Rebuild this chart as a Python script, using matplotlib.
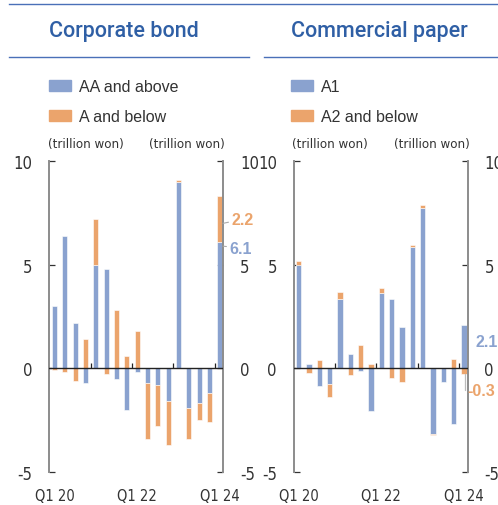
import matplotlib
matplotlib.use("Agg")
import matplotlib.pyplot as plt
import matplotlib.font_manager as fm
from matplotlib.lines import Line2D
from matplotlib.patches import Patch
import numpy as np

quarters = ['Q1 20', 'Q2 20', 'Q3 20', 'Q4 20', 'Q1 21', 'Q2 21', 'Q3 21', 'Q4 21',
            'Q1 22', 'Q2 22', 'Q3 22', 'Q4 22', 'Q1 23', 'Q2 23', 'Q3 23', 'Q4 23', 'Q1 24']
tick_labels = ['Q1 20', 'Q1 22', 'Q1 24']

# corporate bond net issuance by rating (trillion won)
bond_aa = [3.0, 6.4, 2.2, -0.7, 5.0, 4.8, -0.5, -2.0, -0.2, -0.7, -0.8, -1.6, 9.0, -1.9, -1.7, -1.2, 6.1]
bond_a = [-0.1, -0.2, -0.6, 1.4, 2.2, -0.3, 2.8, 0.6, 1.8, -2.7, -2.0, -2.1, 0.1, -1.5, -0.8, -1.4, 2.2]

# commercial paper net issuance by rating (trillion won)
cp_a1 = [5.0, 0.2, -0.85, -0.75, 3.35, 0.7, -0.15, -2.05, 3.65, 3.35, 2.0, 5.85, 7.75, -3.2, -0.65, -2.7, 2.1]
cp_a2 = [0.2, -0.25, 0.4, -0.65, 0.35, -0.35, 1.1, 0.2, 0.25, -0.45, -0.65, 0.1, 0.15, -0.05, 0.0, 0.45, -0.3]

BLUE = '#8aa2cf'
ORANGE = '#eba46c'
TITLE = '#2f5fa5'
RULE = '#4a70b8'
SPINE = '#8c8c8c'
TEXT = '#333333'

# pick a narrow face for the axis text if one is around
fonts = fm.fontManager.ttflist
names = {f.name for f in fonts}
if 'Liberation Sans Narrow' in names:
    narrow = dict(family='Liberation Sans Narrow')
elif any(f.name == 'DejaVu Sans' and 'condensed' in str(f.stretch) for f in fonts):
    narrow = dict(family='DejaVu Sans', stretch='condensed')
else:
    narrow = dict(family='Liberation Sans')

if any(f.name == 'Roboto' and f.weight == 500 for f in fonts):
    title_font = dict(family='Roboto', fontweight=500)
else:
    title_font = dict(family='Liberation Sans', fontweight='bold')

W, H = 498, 506
fig = plt.figure(figsize=(W / 100, H / 100), dpi=100)


def px_axes(x0, x1, ytop, ybot):
    return fig.add_axes([x0 / W, 1 - ybot / H, (x1 - x0) / W, (ybot - ytop) / H])


def draw_panel(ax, upper, lower):
    x = np.arange(len(quarters))
    upper = np.array(upper)
    lower = np.array(lower)
    bottom = np.where(np.sign(lower) == np.sign(upper), upper, 0)
    ax.bar(x, upper, width=0.5, color=BLUE, edgecolor='white', linewidth=0.4, zorder=2)
    ax.bar(x, lower, width=0.5, bottom=bottom, color=ORANGE, edgecolor='white', linewidth=0.4, zorder=2)
    ax.axhline(0, color='#222222', lw=1.0, zorder=3)
    # year separators on the zero line
    ax.vlines([3.5, 7.5, 11.5, 15.5], 0, 0.25, color='#222222', lw=0.9, zorder=3)

    ax.set_xlim(-0.5, 16.35)
    ax.set_ylim(-5, 10)
    ax.set_yticks([-5, 0, 5, 10])
    ax.set_yticklabels(['-5', '0', '5', '10'])
    ax.set_xticks([0, 8, 16])
    ax.set_xticklabels(tick_labels)
    ax.tick_params(axis='x', length=0, pad=12, colors=TEXT)
    ax.tick_params(axis='y', direction='in', length=4, width=0.9, color='#333333',
                   left=True, right=True, labelleft=True, labelright=True,
                   pad=12, labelcolor=TEXT)
    for lab in ax.get_xticklabels():
        lab.set(fontsize=10.5, **narrow)
    for lab in ax.get_yticklabels():
        lab.set(fontsize=12, **narrow)
    for s in ['top', 'bottom']:
        ax.spines[s].set_visible(False)
    for s in ['left', 'right']:
        ax.spines[s].set_color(SPINE)
        ax.spines[s].set_linewidth(1.4)
    ax.patch.set_alpha(0)

    ax.text(-0.01, 1.035, '(trillion won)', transform=ax.transAxes, ha='left', va='bottom',
            fontsize=9.5, color=TEXT, **narrow)
    ax.text(1.01, 1.035, '(trillion won)', transform=ax.transAxes, ha='right', va='bottom',
            fontsize=9.5, color=TEXT, **narrow)


ax1 = px_axes(49.3, 223.5, 162.3, 472.7)
ax2 = px_axes(293.5, 467.7, 162.3, 472.7)
draw_panel(ax1, bond_aa, bond_a)
draw_panel(ax2, cp_a1, cp_a2)

# latest values
last = len(quarters) - 1
ax1.annotate(f'{bond_a[-1]:.1f}', xy=(last + 0.3, bond_aa[-1] + bond_a[-1] / 2 - 0.2),
             xytext=(last + 1.1, bond_aa[-1] + bond_a[-1] / 2), va='center', ha='left',
             fontsize=11.5, fontweight='bold', color=ORANGE, family='Liberation Sans',
             arrowprops=dict(arrowstyle='-', color='#aaaaaa', lw=0.8, shrinkA=0, shrinkB=0),
             annotation_clip=False)
ax1.annotate(f'{bond_aa[-1]:.1f}', xy=(last + 0.3, bond_aa[-1] - 0.2),
             xytext=(last + 0.9, bond_aa[-1] - 0.3), va='center', ha='left',
             fontsize=11.5, fontweight='bold', color=BLUE, family='Liberation Sans',
             arrowprops=dict(arrowstyle='-', color='#aaaaaa', lw=0.8, shrinkA=0, shrinkB=0),
             annotation_clip=False)
ax2.text(last + 1.1, 1.3, f'{cp_a1[-1]:.1f}', va='center', ha='left',
         fontsize=11.5, fontweight='bold', color=BLUE, family='Liberation Sans')
ax2.annotate(f'{cp_a2[-1]:.1f}', xy=(last + 0.05, cp_a2[-1]),
             xytext=(last + 0.35, -1.1), va='center', ha='left',
             fontsize=11.5, fontweight='bold', color=ORANGE, family='Liberation Sans',
             arrowprops=dict(arrowstyle='-', color='#bbbbbb', lw=0.9, shrinkA=1, shrinkB=0,
                             connectionstyle='angle,angleA=0,angleB=90,rad=0'),
             annotation_clip=False)

# header rules and titles
fig.add_artist(Line2D([9 / W, 1], [1 - 5.3 / H] * 2, color=RULE, lw=1.0))
fig.add_artist(Line2D([9 / W, 249 / W], [1 - 58 / H] * 2, color=RULE, lw=1.0))
fig.add_artist(Line2D([264 / W, 1], [1 - 58 / H] * 2, color=RULE, lw=1.0))
fig.text(49 / W, 1 - 32 / H, 'Corporate bond', fontsize=15.5, color=TITLE, va='center', ha='left',
         **title_font)
fig.text(291 / W, 1 - 32 / H, 'Commercial paper', fontsize=15.5, color=TITLE, va='center', ha='left',
         **title_font)

# legends
for x0, labels in [(49, ['AA and above', 'A and below']), (291, ['A1', 'A2 and below'])]:
    handles = [Patch(color=BLUE, label=labels[0]), Patch(color=ORANGE, label=labels[1])]
    fig.legend(handles=handles, loc='upper left', bbox_to_anchor=(x0 / W, 1 - 80 / H),
               bbox_transform=fig.transFigure, frameon=False, borderpad=0, borderaxespad=0,
               handlelength=1.4, handleheight=0.62, handletextpad=0.5,
               labelspacing=0.95, labelcolor=TEXT, prop={'family': 'Liberation Sans', 'size': 11.5})

fig.savefig('out.png', dpi=100)
